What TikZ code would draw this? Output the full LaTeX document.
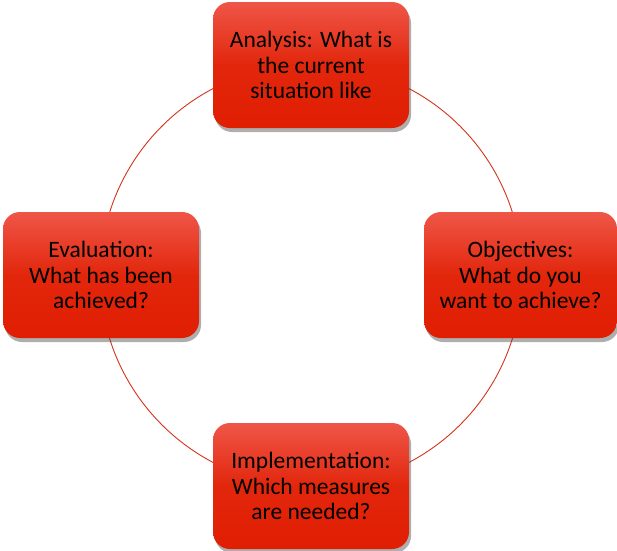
\documentclass[tikz,border=0pt]{standalone}
\usepackage{fontspec}
\setmainfont{Carlito}
\usetikzlibrary{shadows}
\definecolor{ringred}{RGB}{214,52,30}
\definecolor{boxtop}{RGB}{239,86,72}
\definecolor{boxbot}{RGB}{224,30,2}
\tikzset{
  stagebox/.style={rounded corners=17pt, minimum width=196pt, minimum height=126pt,
    top color=boxtop, bottom color=boxbot, middle color=boxbot!85!boxtop,
    drop shadow={shadow xshift=2pt, shadow yshift=-4pt, opacity=0.45, fill=black!70},
    align=center, text=black, font=\fontsize{23.5}{25.5}\selectfont, inner sep=0pt},
  ring/.style={draw=ringred, line width=0.9pt}
}
\begin{document}
\begin{tikzpicture}[x=1pt,y=-1pt]
\useasboundingbox (0,0) rectangle (617,550);
\fill[white] (0,0) rectangle (617,550);
\coordinate (c) at (311,275.5);
\draw[ring] (c) circle[radius=211];
\node[stagebox] (ana) at (311,65) {Analysis: What is\\the current\\situation like};
\node[stagebox, minimum width=193pt] (obj) at (520.5,275) {Objectives:\\What do you\\want to achieve?};
\node[stagebox] (imp) at (311,486) {Implementation:\\Which measures\\are needed?};
\node[stagebox] (eva) at (101,275) {Evaluation:\\What has been\\achieved?};
\end{tikzpicture}
\end{document}
